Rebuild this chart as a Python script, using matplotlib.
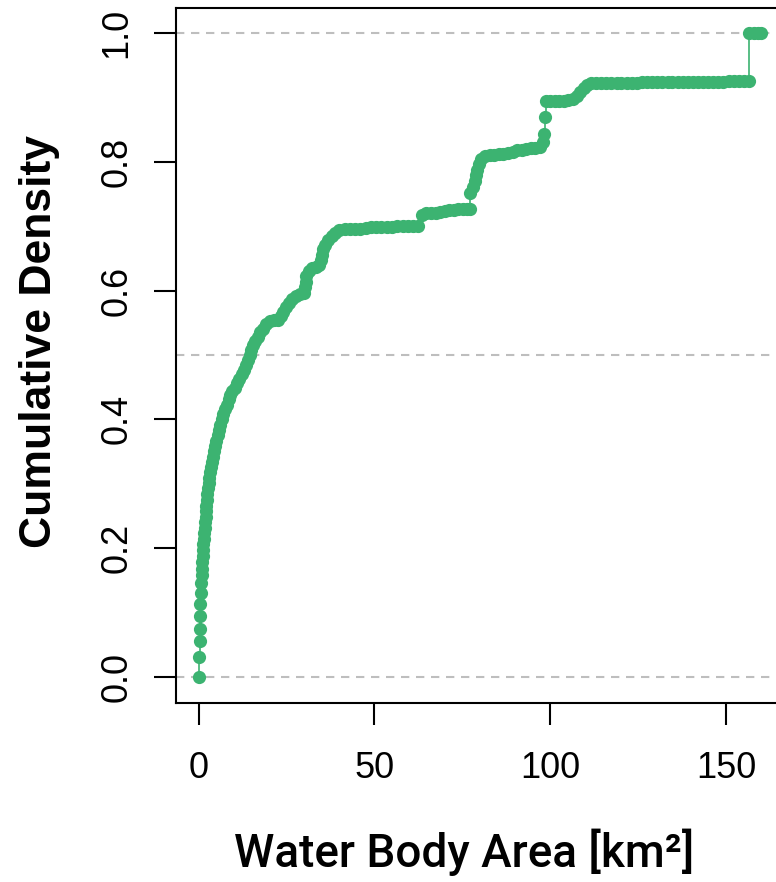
import matplotlib

matplotlib.use("Agg")
import matplotlib.pyplot as plt

# empirical CDF of water body areas (km^2), read as (area, cumulative density)
area_km2 = [
    0.1, 0.1, 0.3, 0.3, 0.4, 0.4, 0.55, 0.7, 0.8, 0.9,
    1.0, 1.1, 1.2, 1.3, 1.45, 1.6, 1.7, 1.85, 2.0, 2.1,
    2.2, 2.35, 2.5, 2.65, 2.8, 3.0, 3.2, 3.45, 3.8, 4.1,
    4.4, 4.7, 5.0, 5.4, 5.8, 6.2, 6.6, 7.0, 7.5, 8.0,
    8.5, 9.0, 9.6, 10.3, 11.0, 11.6, 12.3, 12.9, 13.5, 14.0,
    14.5, 14.9, 15.5, 16.1, 16.8, 17.5, 18.3, 19.2, 20.2, 21.3,
    22.5, 23.4, 24.0, 24.8, 25.6, 26.5, 27.6, 28.8, 29.9, 30.3,
    30.4, 30.6, 31.3, 32.3, 33.4, 34.3, 34.9, 35.1, 35.4, 36.0,
    36.8, 37.8, 38.8, 40.0, 41.5, 43.0, 44.5, 46.0, 47.5, 49.0,
    50.5, 52.0, 53.5, 55.0, 56.5, 58.0, 59.5, 61.0, 62.4, 63.6,
    64.8, 66.1, 67.4, 68.7, 70.0, 71.3, 72.6, 73.9, 75.2, 76.4,
    77.2, 77.3, 78.0, 78.5, 79.0, 79.3, 79.7, 80.3, 81.5, 82.8,
    84.1, 85.4, 86.7, 88.0, 89.3, 90.6, 91.9, 93.2, 94.5, 95.8,
    97.0, 98.1, 98.3, 98.5, 98.7, 100.0, 101.3, 102.6, 103.9, 105.2,
    106.4, 107.5, 108.5, 109.5, 110.5, 111.7, 113.1, 114.5, 116.0, 117.4,
    118.9, 120.3, 121.8, 123.2, 124.7, 126.1, 127.6, 129.0, 130.5, 131.9,
    133.4, 134.8, 136.3, 137.7, 139.2, 140.6, 142.1, 143.5, 145.0, 146.4,
    147.9, 149.3, 150.8, 152.2, 153.7, 155.1, 156.6, 156.7, 158.0, 159.0, 160.0,
]
cum_density = [
    0.000, 0.031, 0.056, 0.075, 0.095, 0.114, 0.131, 0.146, 0.158, 0.168,
    0.178, 0.188, 0.197, 0.206, 0.215, 0.224, 0.232, 0.240, 0.249, 0.258,
    0.266, 0.275, 0.284, 0.293, 0.301, 0.309, 0.318, 0.326, 0.334, 0.342,
    0.351, 0.359, 0.366, 0.375, 0.384, 0.392, 0.400, 0.408, 0.416, 0.423,
    0.431, 0.438, 0.444, 0.449, 0.456, 0.463, 0.470, 0.477, 0.485, 0.492,
    0.500, 0.508, 0.515, 0.521, 0.528, 0.535, 0.541, 0.548, 0.553, 0.554,
    0.555, 0.561, 0.567, 0.574, 0.581, 0.587, 0.592, 0.594, 0.597, 0.605,
    0.614, 0.622, 0.630, 0.635, 0.637, 0.640, 0.648, 0.656, 0.664, 0.671,
    0.678, 0.684, 0.690, 0.694, 0.695, 0.695, 0.696, 0.696, 0.697, 0.698,
    0.699, 0.699, 0.699, 0.699, 0.700, 0.700, 0.700, 0.700, 0.701, 0.718,
    0.720, 0.721, 0.721, 0.722, 0.724, 0.725, 0.725, 0.726, 0.726, 0.726,
    0.727, 0.751, 0.761, 0.770, 0.779, 0.788, 0.797, 0.805, 0.809, 0.810,
    0.811, 0.812, 0.812, 0.813, 0.815, 0.818, 0.819, 0.820, 0.821, 0.822,
    0.823, 0.831, 0.843, 0.869, 0.894, 0.894, 0.894, 0.895, 0.895, 0.896,
    0.897, 0.902, 0.908, 0.914, 0.920, 0.923, 0.923, 0.923, 0.923, 0.923,
    0.923, 0.923, 0.923, 0.923, 0.923, 0.924, 0.924, 0.924, 0.924, 0.924,
    0.924, 0.924, 0.924, 0.924, 0.924, 0.924, 0.924, 0.924, 0.924, 0.924,
    0.924, 0.924, 0.925, 0.925, 0.925, 0.925, 0.925, 1.000, 1.000, 1.000, 1.000,
]
x_ticks = [0, 50, 100, 150]
y_ticks = [0.0, 0.2, 0.4, 0.6, 0.8, 1.0]
ref_levels = [0.0, 0.5, 1.0]

GREEN = "#3CB371"
W, H = 776, 882

plt.rcParams["font.family"] = ["Liberation Sans", "DejaVu Sans"]

fig = plt.figure(figsize=(W / 100, H / 100), dpi=100)
ax = fig.add_axes([176 / W, 1 - 702.7 / H, 604 / W, (702.7 - 8) / H])

for lvl in ref_levels:
    ax.axhline(lvl, color="#BEBEBE", lw=1.5, dashes=(4, 3.2), zorder=1)

ax.plot(
    area_km2,
    cum_density,
    drawstyle="steps-post",
    color=GREEN,
    lw=1.2,
    marker="o",
    markersize=9.5,
    markeredgewidth=0,
    zorder=3,
)

ax.set_xlim(-6.46, 165.4)
ax.set_ylim(-0.0399, 1.0388)

ax.set_xticks(x_ticks)
ax.set_xticklabels([str(t) for t in x_ticks])
ax.set_yticks(y_ticks)
ax.set_yticklabels([f"{t:.1f}" for t in y_ticks], rotation=90, va="center")

for side in ax.spines.values():
    side.set_linewidth(1.5)
    side.set_color("black")

ax.tick_params(axis="both", direction="out", length=16, width=1.5, labelsize=26)
ax.tick_params(axis="x", pad=19)
ax.tick_params(axis="y", pad=14)

fig.text(
    40 / W, 1 - 341.5 / H, "Cumulative Density",
    rotation=90, ha="center", va="center", fontsize=32, fontweight="bold",
)
fig.text(
    464 / W, 1 - 866.7 / H, "Water Body Area [km²]",
    ha="center", va="baseline", fontsize=33,
    family=["Roboto", "DejaVu Sans"], fontweight="medium",
)

fig.savefig("out.png", dpi=100)
